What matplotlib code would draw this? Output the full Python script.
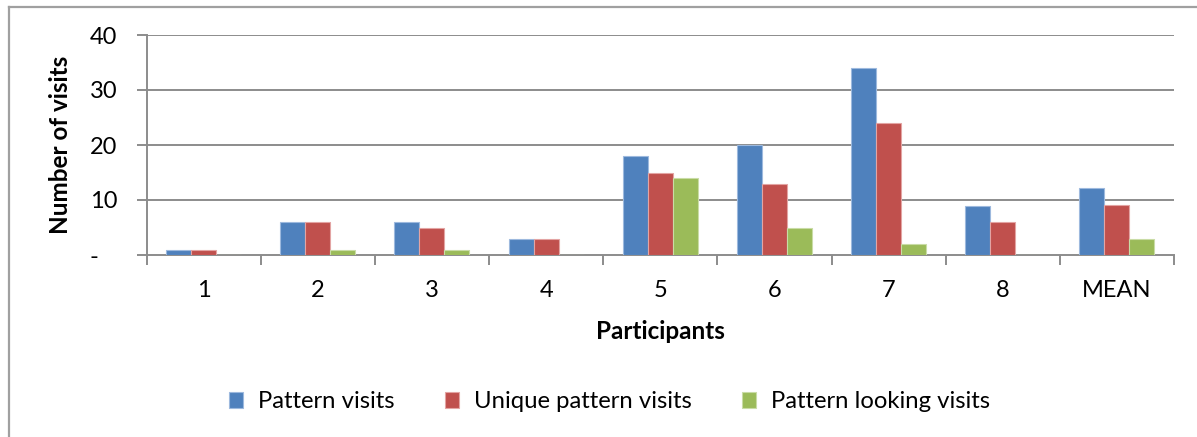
import numpy as np
import matplotlib
matplotlib.use("Agg")
from matplotlib import pyplot as plt
from matplotlib.lines import Line2D

# Visits per participant, plus the mean over participants
participants = ["1", "2", "3", "4", "5", "6", "7", "8", "MEAN"]
pattern_visits = [1, 6, 6, 3, 18, 20, 34, 9, 12.125]
unique_pattern_visits = [1, 6, 5, 3, 15, 13, 24, 6, 9.125]
pattern_looking_visits = [0, 1, 1, 0, 14, 5, 2, 0, 2.875]
series_names = ["Pattern visits", "Unique pattern visits", "Pattern looking visits"]
y_ticks = [0, 10, 20, 30, 40]
y_tick_labels = ["-   ", "10", "20", "30", "40"]

colors = ["#4F81BD", "#C0504D", "#9BBB59"]
edge_colors = ["#9DB9DE", "#E3A4A3", "#C9DCA6"]
grid_color = "#8C8C8C"

plt.rcParams["font.family"] = ["Lato", "DejaVu Sans"]

W, H = 1197, 437
fig = plt.figure(figsize=(W / 100, H / 100), dpi=100)

# outer chart frame (left and top edges visible)
fig.add_artist(Line2D([8.5 / W, 8.5 / W], [0, 1 - 6.5 / H], color="#A0A0A0", lw=1.6))
fig.add_artist(Line2D([8.5 / W, 1], [1 - 6.5 / H, 1 - 6.5 / H], color="#A0A0A0", lw=1.6))

left, right, top, bottom = 146.5, 1174, 35, 255
ax = fig.add_axes([left / W, 1 - bottom / H, (right - left) / W, (bottom - top) / H])

x = np.arange(len(participants))
bar_w = 0.219
all_series = [pattern_visits, unique_pattern_visits, pattern_looking_visits]
for i, vals in enumerate(all_series):
    ax.bar(x + (i - 1) * bar_w, vals, width=bar_w, color=colors[i],
           edgecolor=edge_colors[i], linewidth=0.8, label=series_names[i], zorder=3)

ax.set_xlim(-0.5, len(participants) - 0.5)
ax.set_ylim(0, 40)

# gridlines
for t in y_ticks[1:]:
    ax.axhline(t, color=grid_color, lw=1.4, zorder=1)

for s in ["top", "right"]:
    ax.spines[s].set_visible(False)
for s in ["left", "bottom"]:
    ax.spines[s].set_color(grid_color)
    ax.spines[s].set_linewidth(1.4)

ax.set_yticks(y_ticks)
ax.set_yticklabels(y_tick_labels, fontsize=17)
ax.tick_params(axis="y", length=7, width=1.4, color=grid_color, pad=14)

ax.set_xticks(x)
ax.set_xticklabels(participants, fontsize=17)
ax.set_xticks(np.arange(-0.5, len(participants)), minor=True)
ax.tick_params(axis="x", which="major", length=0, pad=18)
ax.tick_params(axis="x", which="minor", length=7, width=1.4, color=grid_color)

ax.set_ylabel("Number of visits", fontsize=17.5, fontweight="bold", labelpad=13)
ax.set_xlabel("Participants", fontsize=17.5, fontweight="bold", labelpad=14)

fig.legend(loc="center", bbox_to_anchor=(609.5 / W, 1 - 402 / H), ncol=3, frameon=False,
           fontsize=17.2, handlelength=0.6, handleheight=0.6, handletextpad=0.63,
           columnspacing=2.1)

fig.savefig("out.png", dpi=100)
